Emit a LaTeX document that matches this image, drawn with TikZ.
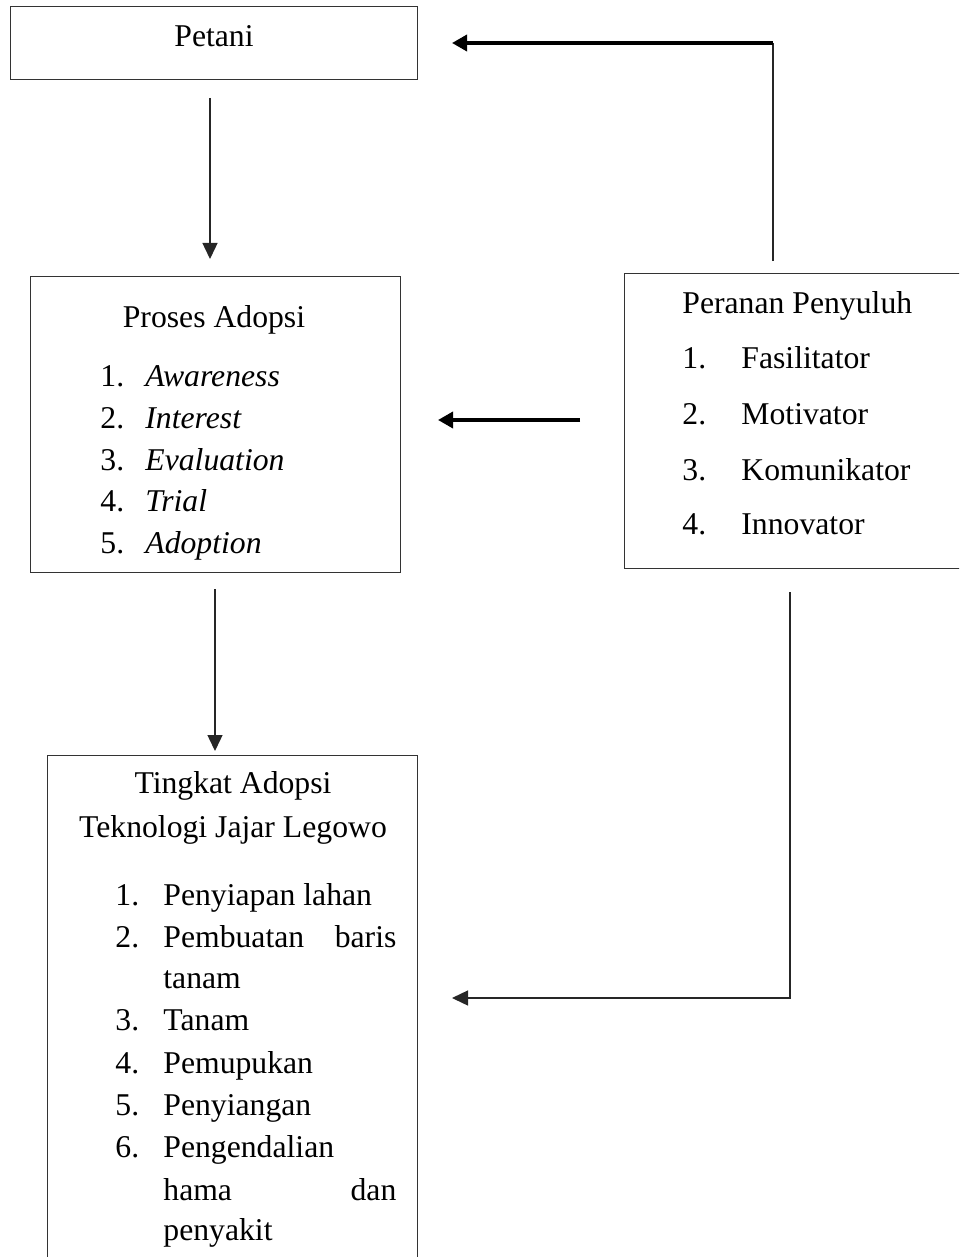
\documentclass[tikz,border=0pt]{standalone}
\usepackage{fontspec}
\setmainfont{Liberation Serif}
\usetikzlibrary{arrows.meta}
\begin{document}
\begin{tikzpicture}[x=0.5pt,y=-0.5pt,
  box/.style={draw=black!80, line width=0.65pt, rectangle, inner sep=0pt, anchor=north west},
  txt/.style={anchor=base west, inner sep=0pt, font=\fontsize{15.85pt}{19pt}\selectfont},
  txtc/.style={txt, anchor=base},
  thinline/.style={draw=black!85, line width=0.7pt},
  thinarrow/.style={thinline, -{Triangle[length=8pt,width=7.5pt]}},
  thickarrow/.style={draw=black, line width=1.75pt, -{Triangle[length=7.5pt,width=8pt]}}]
\path[use as bounding box] (0,0) rectangle (959,1257);
\clip (0,0) rectangle (959,1257);

% boxes
\node[box, minimum width=203.5pt, minimum height=36.5pt] (petani) at (10,6) {};
\node[box, minimum width=185pt, minimum height=148pt] (proses) at (30,276) {};
\node[box, minimum width=169pt, minimum height=147.5pt] (peranan) at (624,273) {};
\node[box, minimum width=185pt, minimum height=300pt] (tingkat) at (47,755) {};

% Petani
\node[txtc] (tpetani) at (214,47) {Petani};

% Proses Adopsi
\node[txtc] (tproses) at (214,327) {Proses Adopsi};
\node[txt] (pn1) at (100,386) {1.};
\node[txt] (pi1) at (145,386) {\textit{Awareness}};
\node[txt] (pn2) at (100,428) {2.};
\node[txt] (pi2) at (145,428) {\textit{Interest}};
\node[txt] (pn3) at (100,470) {3.};
\node[txt] (pi3) at (145,470) {\textit{Evaluation}};
\node[txt] (pn4) at (100,511) {4.};
\node[txt] (pi4) at (145,511) {\textit{Trial}};
\node[txt] (pn5) at (100,553) {5.};
\node[txt] (pi5) at (145,553) {\textit{Adoption}};

% Peranan Penyuluh
\node[txt] (tperanan) at (682,313) {Peranan Penyuluh};
\node[txt] (rn1) at (682,368) {1.};
\node[txt] (ri1) at (741,368) {Fasilitator};
\node[txt] (rn2) at (682,424) {2.};
\node[txt] (ri2) at (741,424) {Motivator};
\node[txt] (rn3) at (682,480) {3.};
\node[txt] (ri3) at (741,480) {Komunikator};
\node[txt] (rn4) at (682,534) {4.};
\node[txt] (ri4) at (741,534) {Innovator};

% Tingkat Adopsi
\node[txtc] (ttingkat1) at (233,793) {Tingkat Adopsi};
\node[txtc] (ttingkat2) at (233,837) {Teknologi Jajar Legowo};
\node[txt] (tn1) at (115,905) {1.};
\node[txt] (ti1) at (163,905) {Penyiapan lahan};
\node[txt] (tn2) at (115,947) {2.};
\node[txt] (ti2) at (163,947) {\hbox to 116.5pt{Pembuatan\hfill baris}};
\node[txt] (ti2b) at (163,988) {tanam};
\node[txt] (tn3) at (115,1030) {3.};
\node[txt] (ti3) at (163,1030) {Tanam};
\node[txt] (tn4) at (115,1073) {4.};
\node[txt] (ti4) at (163,1073) {Pemupukan};
\node[txt] (tn5) at (115,1115) {5.};
\node[txt] (ti5) at (163,1115) {Penyiangan};
\node[txt] (tn6) at (115,1157) {6.};
\node[txt] (ti6) at (163,1157) {Pengendalian};
\node[txt] (ti6b) at (163,1200) {\hbox to 116.5pt{hama\hfill dan}};
\node[txt] (ti6c) at (163,1240) {penyakit};

% connector end points
\coordinate (a1s) at (210,98);
\coordinate (a1e) at (210,259);
\coordinate (a2s) at (215,589);
\coordinate (a2e) at (215,751);
\coordinate (a3s) at (773,261);
\coordinate (a3c) at (773,43);
\coordinate (a3e) at (452,43);
\coordinate (a4s) at (580,420);
\coordinate (a4e) at (438,420);
\coordinate (a5s) at (790,592);
\coordinate (a5c) at (790,998);
\coordinate (a5e) at (452,998);

% connectors
\draw[thinarrow] (a1s) -- (a1e);
\draw[thinarrow] (a2s) -- (a2e);
\draw[thinline] (a3s) -- (a3c);
\draw[thickarrow] (a3c) -- (a3e);
\draw[thickarrow] (a4s) -- (a4e);
\draw[thinarrow] (a5s) -- (a5c) -- (a5e);
\end{tikzpicture}
\end{document}
